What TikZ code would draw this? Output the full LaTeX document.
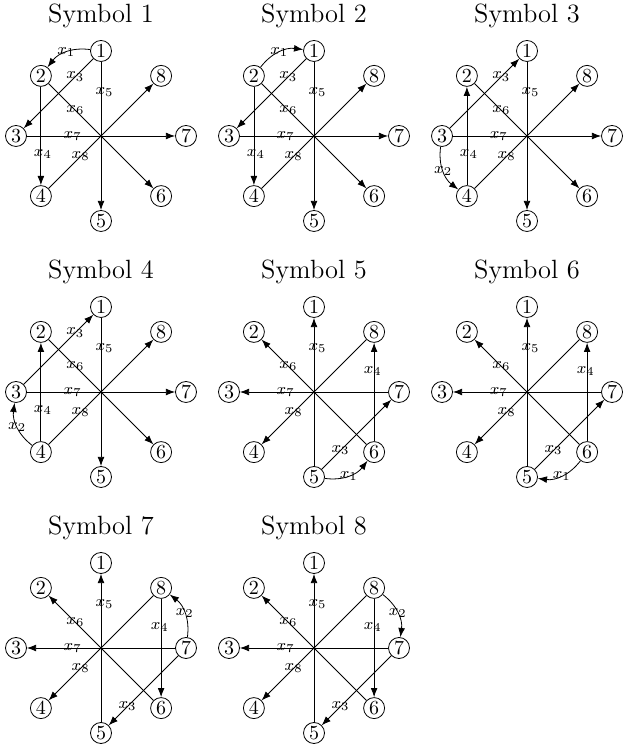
\documentclass[tikz,border=0pt]{standalone}
\usetikzlibrary{arrows.meta}
\newcommand\octnodes[3]{%
  \node[ttl] (t#1) at (#2,#3+113) {Symbol #1};
  \begin{scope}[shift={(#2,#3)}]
    \foreach \k/\a in {1/90,2/135,3/180,4/225,5/270,6/315,7/0,8/45}
      \node[vtx] (s#1n\k) at (\a:85) {\k};
  \end{scope}}
% common edges, symbols 1-4 (outward from upper-left nodes)
\newcommand\commonA[1]{%
  \draw[arr] (s#1n1) -- node[lbl,pos=.206,xshift=1.75pt]{$x_5$} (s#1n5);
  \draw[arr] (s#1n2) -- node[lbl,pos=.256]{$x_6$} (s#1n6);
  \draw[arr] (s#1n3) -- node[lbl,pos=.309]{$x_7$} (s#1n7);
  \draw[arr] (s#1n4) -- node[lbl,pos=.306]{$x_8$} (s#1n8);}
% common edges, symbols 5-8 (outward from lower-right nodes)
\newcommand\commonB[1]{%
  \draw[arr] (s#1n5) -- node[lbl,pos=.794,xshift=1.75pt]{$x_5$} (s#1n1);
  \draw[arr] (s#1n6) -- node[lbl,pos=.744]{$x_6$} (s#1n2);
  \draw[arr] (s#1n7) -- node[lbl,pos=.691]{$x_7$} (s#1n3);
  \draw[arr] (s#1n8) -- node[lbl,pos=.694]{$x_8$} (s#1n4);}
\begin{document}
\begin{tikzpicture}[x=0.5pt,y=0.5pt,
  vtx/.style={draw, circle, minimum size=10.5pt, inner sep=0pt, font=\normalsize},
  ttl/.style={anchor=base, font=\fontsize{13.2}{16}\selectfont, inner sep=0pt},
  lbl/.style={font=\footnotesize, inner sep=0pt},
  arr/.style={line width=0.4pt, -{Latex[length=4.6pt,width=3.4pt]}}]
\useasboundingbox (0,0) rectangle (622,747);

% ---------- Symbol 1 ----------
\octnodes{1}{101}{611}
\draw[arr] (s1n1) to[bend right] node[lbl]{$x_1$} (s1n2);
\draw[arr] (s1n1) -- node[lbl,pos=.258]{$x_3$} (s1n3);
\draw[arr] (s1n2) -- node[lbl,pos=.683,xshift=1pt]{$x_4$} (s1n4);
\commonA{1}

% ---------- Symbol 2 ----------
\octnodes{2}{314}{611}
\draw[arr] (s2n2) to[bend left] node[lbl]{$x_1$} (s2n1);
\draw[arr] (s2n1) -- node[lbl,pos=.258]{$x_3$} (s2n3);
\draw[arr] (s2n2) -- node[lbl,pos=.683,xshift=1pt]{$x_4$} (s2n4);
\commonA{2}

% ---------- Symbol 3 ----------
\octnodes{3}{527}{611}
\draw[arr] (s3n3) to[bend right] node[lbl]{$x_2$} (s3n4);
\draw[arr] (s3n3) -- node[lbl,pos=.742]{$x_3$} (s3n1);
\draw[arr] (s3n4) -- node[lbl,pos=.317,xshift=1pt]{$x_4$} (s3n2);
\commonA{3}

% ---------- Symbol 4 ----------
\octnodes{4}{101}{355}
\draw[arr] (s4n4) to[bend left] node[lbl]{$x_2$} (s4n3);
\draw[arr] (s4n3) -- node[lbl,pos=.742]{$x_3$} (s4n1);
\draw[arr] (s4n4) -- node[lbl,pos=.317,xshift=1pt]{$x_4$} (s4n2);
\commonA{4}

% ---------- Symbol 5 ----------
\octnodes{5}{314}{355}
\draw[arr] (s5n5) to[bend right] node[lbl]{$x_1$} (s5n6);
\draw[arr] (s5n5) -- node[lbl,pos=.271]{$x_3$} (s5n7);
\draw[arr] (s5n6) -- node[lbl,pos=.716,xshift=-0.7pt]{$x_4$} (s5n8);
\commonB{5}

% ---------- Symbol 6 ----------
\octnodes{6}{527}{355}
\draw[arr] (s6n6) to[bend left] node[lbl]{$x_1$} (s6n5);
\draw[arr] (s6n5) -- node[lbl,pos=.271]{$x_3$} (s6n7);
\draw[arr] (s6n6) -- node[lbl,pos=.716,xshift=-0.7pt]{$x_4$} (s6n8);
\commonB{6}

% ---------- Symbol 7 ----------
\octnodes{7}{101}{99}
\draw[arr] (s7n7) to[bend right] node[lbl]{$x_2$} (s7n8);
\draw[arr] (s7n7) -- node[lbl,pos=.729]{$x_3$} (s7n5);
\draw[arr] (s7n8) -- node[lbl,pos=.284,xshift=-0.7pt]{$x_4$} (s7n6);
\commonB{7}

% ---------- Symbol 8 ----------
\octnodes{8}{314}{99}
\draw[arr] (s8n8) to[bend left] node[lbl]{$x_2$} (s8n7);
\draw[arr] (s8n7) -- node[lbl,pos=.729]{$x_3$} (s8n5);
\draw[arr] (s8n8) -- node[lbl,pos=.284,xshift=-0.7pt]{$x_4$} (s8n6);
\commonB{8}
\end{tikzpicture}
\end{document}
